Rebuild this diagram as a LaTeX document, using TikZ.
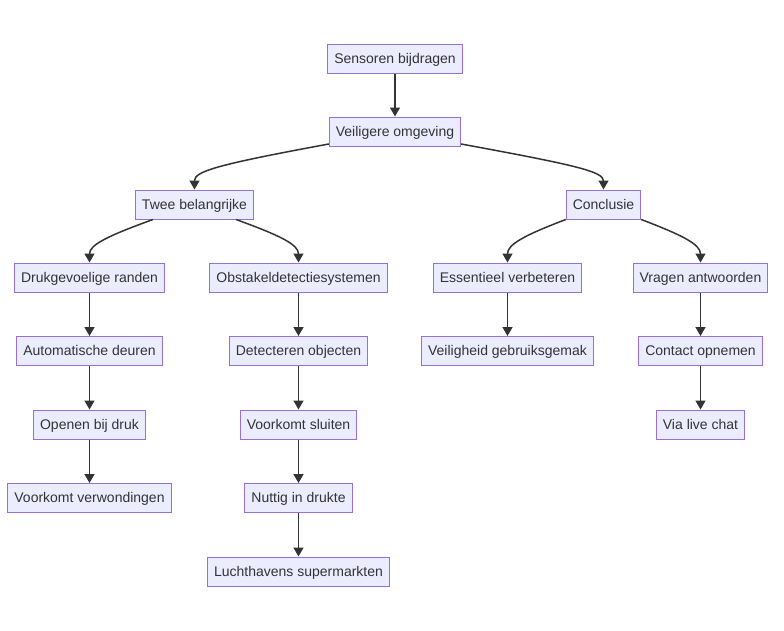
\documentclass[tikz,border=0pt]{standalone}
\usepackage{fontspec}
\setmainfont{Liberation Sans}
\usetikzlibrary{arrows.meta}
\definecolor{nodefill}{HTML}{ECECFF}
\definecolor{nodeline}{HTML}{9370DB}
\definecolor{txt}{HTML}{333333}
\begin{document}
\begin{tikzpicture}[x=1pt,y=-1pt,
  box/.style={draw=nodeline,fill=nodefill,line width=1pt,text=txt,
    font=\fontsize{14}{16}\selectfont,inner xsep=6.5pt,inner ysep=0pt,
    minimum height=29pt,text height=11.5pt,text depth=2pt},
  link/.style={draw=txt,line width=1.5pt,-{Triangle[length=9pt,width=10pt]}}]
\useasboundingbox (0,0) rectangle (784,630);
\node[box] (sens) at (395,58.5) {Sensoren bijdragen};
\node[box] (veil) at (395,131.5) {Veiligere omgeving};
\node[box] (twee) at (194.5,204.5) {Twee belangrijke};
\node[box] (conc) at (603.5,204.5) {Conclusie};
\node[box] (druk) at (89.5,277.5) {Drukgevoelige randen};
\node[box] (obst) at (298.5,277.5) {Obstakeldetectiesystemen};
\node[box] (ess) at (507.5,277.5) {Essentieel verbeteren};
\node[box] (vrag) at (700.5,277.5) {Vragen antwoorden};
\node[box] (auto) at (89.5,351) {Automatische deuren};
\node[box] (dete) at (298.5,351) {Detecteren objecten};
\node[box] (veig) at (507.5,351) {Veiligheid gebruiksgemak};
\node[box] (cont) at (700.5,351) {Contact opnemen};
\node[box] (open) at (89.5,424.5) {Openen bij druk};
\node[box] (vsl) at (298.5,424.5) {Voorkomt sluiten};
\node[box] (chat) at (700.5,424.5) {Via live chat};
\node[box] (vwo) at (89.5,498) {Voorkomt verwondingen};
\node[box] (nutt) at (298.5,498) {Nuttig in drukte};
\node[box] (luch) at (298.5,571.5) {Luchthavens supermarkten};
\draw[link] (sens) -- (veil);
\draw[link] ([yshift=2.5pt]veil.south west) .. controls +(-114,21) and +(0,-18) .. (twee.north);
\draw[link] ([yshift=2.5pt]veil.south east) .. controls +(114,21) and +(0,-18) .. (conc.north);
\draw[link] ([xshift=18pt]twee.south west) .. controls +(-44,16) and +(0,-18) .. (druk.north);
\draw[link] ([xshift=-18pt]twee.south east) .. controls +(44,16) and +(0,-18) .. (obst.north);
\draw[link] (conc.south west) .. controls +(-42,16) and +(0,-18) .. (ess.north);
\draw[link] (conc.south east) .. controls +(42,16) and +(0,-18) .. (vrag.north);
\draw[link] (druk) -- (auto);
\draw[link] (auto) -- (open);
\draw[link] (open) -- (vwo);
\draw[link] (obst) -- (dete);
\draw[link] (dete) -- (vsl);
\draw[link] (vsl) -- (nutt);
\draw[link] (nutt) -- (luch);
\draw[link] (ess) -- (veig);
\draw[link] (vrag) -- (cont);
\draw[link] (cont) -- (chat);
\end{tikzpicture}
\end{document}
